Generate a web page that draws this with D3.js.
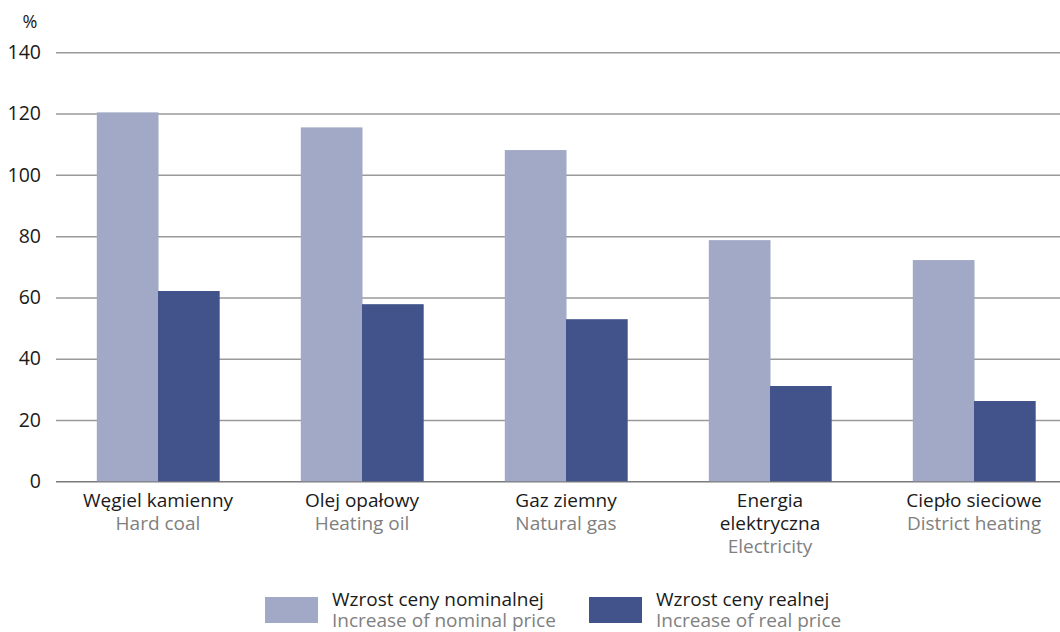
<!DOCTYPE html>
<html>
<head>
<meta charset="utf-8">
<script src="https://cdn.jsdelivr.net/npm/d3@7"></script>
<style>
  body { margin: 0; background: #fff; }
  svg text { font-family: "Open Sans", "Noto Sans", sans-serif; }
</style>
</head>
<body>
<div id="root"></div>
<script>
const categoriesPl = [["Węgiel kamienny"], ["Olej opałowy"], ["Gaz ziemny"], ["Energia", "elektryczna"], ["Ciepło sieciowe"]];
const categoriesEn = ["Hard coal", "Heating oil", "Natural gas", "Electricity", "District heating"];
const nominal = [120.4, 115.5, 108.1, 78.7, 72.2];
const real = [62.1, 57.8, 52.9, 31.1, 26.2];
const yTicks = [0, 20, 40, 60, 80, 100, 120, 140];
const seriesPl = ["Wzrost ceny nominalnej", "Wzrost ceny realnej"];
const seriesEn = ["Increase of nominal price", "Increase of real price"];
const colors = ["#a2a9c6", "#42538b"];

const W = 1060, H = 632;
const svg = d3.select("#root").append("svg")
    .attr("width", W)
    .attr("height", H);

const y = d3.scaleLinear()
    .domain([0, 140])
    .range([481.3, 52.3]);

const x0 = d3.scaleBand()
    .domain(d3.range(categoriesEn.length))
    .range([56, 1076])
    .paddingInner(0.4)
    .paddingOuter(0.2);

const x1 = d3.scaleBand()
    .domain([0, 1])
    .range([0, x0.bandwidth()]);

// grid lines
const yAxis = d3.axisLeft(y)
    .tickValues(yTicks)
    .tickSize(-(W - 56))
    .tickPadding(15);

const gy = svg.append("g")
    .attr("transform", "translate(56,0)")
    .call(yAxis);
gy.select(".domain").remove();
gy.selectAll(".tick line")
    .attr("stroke", (d) => d === 0 ? "#7a7a7a" : "#9a9a9a")
    .attr("stroke-width", 1.5);
gy.selectAll(".tick text")
    .attr("fill", "#1a1a1a")
    .style("font-size", "19.5px");

svg.append("text")
    .text("%")
    .attr("x", 30)
    .attr("y", 28)
    .attr("text-anchor", "middle")
    .attr("fill", "#1a1a1a")
    .style("font-size", "18px");

// bars
const groups = svg.selectAll(".cat")
    .data(categoriesEn.map((c, i) => [nominal[i], real[i]]))
    .enter()
    .append("g")
    .attr("class", "cat")
    .attr("transform", (d, i) => "translate(" + x0(i) + ",0)");

groups.selectAll("rect")
    .data((d) => d)
    .enter()
    .append("rect")
    .attr("x", (d, j) => x1(j))
    .attr("y", (d) => y(d))
    .attr("width", x1.bandwidth() + 0.5)
    .attr("height", (d) => y(0) - y(d))
    .attr("fill", (d, j) => colors[j]);

// category labels
const labels = svg.selectAll(".lab")
    .data(categoriesEn)
    .enter()
    .append("text")
    .attr("class", "lab")
    .attr("text-anchor", "middle")
    .attr("x", (d, i) => x0(i) + x0.bandwidth() / 2)
    .attr("y", 507)
    .style("font-size", "19px");

labels.each(function(d, i) {
    const t = d3.select(this);
    const cx = x0(i) + x0.bandwidth() / 2;
    categoriesPl[i].forEach((line, k) => {
        t.append("tspan")
            .attr("x", cx)
            .attr("dy", k === 0 ? 0 : 23)
            .attr("fill", "#1a1a1a")
            .text(line);
    });
    t.append("tspan")
        .attr("x", cx)
        .attr("dy", 23)
        .attr("fill", "#808080")
        .text(d);
});

// legend
const legendX = [265, 589];
const leg = svg.selectAll(".leg")
    .data(seriesPl)
    .enter()
    .append("g")
    .attr("class", "leg")
    .attr("transform", (d, i) => "translate(" + legendX[i] + ",0)");

leg.append("rect")
    .attr("x", 0)
    .attr("y", 597)
    .attr("width", 53)
    .attr("height", 26)
    .attr("fill", (d, i) => colors[i]);

leg.append("text")
    .text((d) => d)
    .attr("x", 67)
    .attr("y", 606)
    .attr("fill", "#1a1a1a")
    .style("font-size", "19px");

leg.append("text")
    .text((d, i) => seriesEn[i])
    .attr("x", 67)
    .attr("y", 627)
    .attr("fill", "#808080")
    .style("font-size", "19px");
</script>
</body>
</html>
